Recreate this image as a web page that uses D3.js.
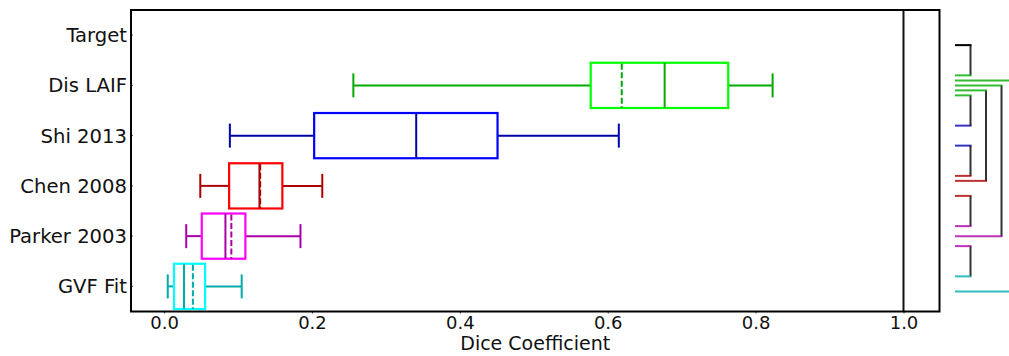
<!DOCTYPE html>
<html>
<head>
<meta charset="utf-8">
<script src="https://cdn.jsdelivr.net/npm/d3@7"></script>
<style>
  html, body { margin: 0; padding: 0; background: #fff; }
  svg { display: block; font-family: "DejaVu Sans", sans-serif; }
</style>
</head>
<body>
<svg id="chart" width="1009" height="356"></svg>
<script>
// ---------- data ----------
const categories = ["Target", "Dis LAIF", "Shi 2013", "Chen 2008", "Parker 2003", "GVF Fit"];
const whiskerLow  = [1.0, 0.256, 0.089, 0.049, 0.030, 0.005];
const q1          = [1.0, 0.577, 0.203, 0.088, 0.051, 0.0135];
const median      = [1.0, 0.677, 0.341, 0.129, 0.083, 0.027];
const mean        = [1.0, 0.619, null,  0.130, 0.091, 0.039];
const q3          = [1.0, 0.763, 0.451, 0.160, 0.110, 0.0555];
const whiskerHigh = [1.0, 0.823, 0.615, 0.214, 0.1845, 0.105];
const boxColors     = ["#000000", "#00ff00", "#0000ff", "#ff0000", "#ff00ff", "#00ffff"];
const whiskerColors = ["#000000", "#00aa00", "#0000aa", "#aa0000", "#aa00aa", "#00aaaa"];
const xTicks = [0.0, 0.2, 0.4, 0.6, 0.8, 1.0];
const xTickLabels = ["0.0", "0.2", "0.4", "0.6", "0.8", "1.0"];
const xTitle = "Dice Coefficient";
// significance brackets (pairs of categories)
const bracketFrom = ["Target", "Dis LAIF", "Dis LAIF", "Dis LAIF", "Dis LAIF", "Shi 2013", "Chen 2008", "Parker 2003"];
const bracketTo   = ["Dis LAIF", "GVF Fit", "Parker 2003", "Chen 2008", "Shi 2013", "Chen 2008", "Parker 2003", "GVF Fit"];

// ---------- layout ----------
const svg = d3.select("#chart");
const L = 131, R = 939.5, T = 10, B = 311.5;

const x = d3.scaleLinear().domain([-0.0447, 1.0487]).range([L, R]);
const y = d3.scaleBand().domain(categories).range([T, B]).padding(0);
const bw = y.bandwidth();
const boxH = bw * 0.9;
const capH = 24;

const rows = categories.map((c, i) => ({
  c, i, lo: whiskerLow[i], q1: q1[i], med: median[i], mean: mean[i], q3: q3[i], hi: whiskerHigh[i],
  box: boxColors[i], wc: whiskerColors[i]
}));

// ---------- axes ----------
const xAxis = d3.axisBottom(x).tickValues(xTicks).tickFormat((d, i) => xTickLabels[i]).tickSize(2).tickPadding(4);
const gx = svg.append("g").attr("transform", `translate(0,${B})`).call(xAxis);
gx.select(".domain").remove();
gx.selectAll(".tick line").attr("stroke", "#333");
gx.selectAll(".tick text").attr("font-size", 18).attr("fill", "#111")
  .attr("font-family", "DejaVu Sans, sans-serif").attr("y", 5).attr("dy", "0.71em");

const yAxis = d3.axisLeft(y).tickSize(-2).tickPadding(6);
const gy = svg.append("g").attr("transform", `translate(${L},0)`).call(yAxis);
gy.select(".domain").remove();
gy.selectAll(".tick line").attr("stroke", "#555");
gy.selectAll(".tick text").attr("font-size", 19.6).attr("fill", "#111")
  .attr("font-family", "DejaVu Sans, sans-serif").attr("x", -4).attr("dy", "0.36em");

svg.append("text")
  .attr("x", (L + R) / 2).attr("y", 350)
  .attr("text-anchor", "middle").attr("font-size", 19).attr("fill", "#111")
  .text(xTitle);

// ---------- boxes ----------
const plot = svg.append("g");
const boxRows = rows.filter(r => r.c !== "Target");

boxRows.forEach(r => {
  const cy = y(r.c) + bw / 2;
  const g = plot.append("g");
  // whiskers
  g.append("line").attr("x1", x(r.lo)).attr("x2", x(r.q1)).attr("y1", cy).attr("y2", cy)
    .attr("stroke", r.wc).attr("stroke-width", 2);
  g.append("line").attr("x1", x(r.q3)).attr("x2", x(r.hi)).attr("y1", cy).attr("y2", cy)
    .attr("stroke", r.wc).attr("stroke-width", 2);
  // caps
  [r.lo, r.hi].forEach(v => {
    g.append("line").attr("x1", x(v)).attr("x2", x(v)).attr("y1", cy - capH / 2).attr("y2", cy + capH / 2)
      .attr("stroke", r.wc).attr("stroke-width", 2);
  });
  // box
  g.append("rect").attr("x", x(r.q1)).attr("y", cy - boxH / 2)
    .attr("width", x(r.q3) - x(r.q1)).attr("height", boxH)
    .attr("fill", "none").attr("stroke", r.box).attr("stroke-width", 2.2);
  // median
  g.append("line").attr("x1", x(r.med)).attr("x2", x(r.med)).attr("y1", cy - boxH / 2).attr("y2", cy + boxH / 2)
    .attr("stroke", r.wc).attr("stroke-width", 2);
  // mean
  if (r.mean !== null) {
    g.append("line").attr("x1", x(r.mean)).attr("x2", x(r.mean)).attr("y1", cy - boxH / 2 + 1).attr("y2", cy + boxH / 2)
      .attr("stroke", r.wc).attr("stroke-width", 2).attr("stroke-dasharray", "6,2.5");
  }
});

// target line (full height)
const targetRow = rows.find(r => r.c === "Target");
plot.append("line").attr("x1", x(targetRow.med)).attr("x2", x(targetRow.med))
  .attr("y1", T).attr("y2", B).attr("stroke", "#111").attr("stroke-width", 2);

// frame
svg.append("rect").attr("x", L).attr("y", T).attr("width", R - L).attr("height", B - T)
  .attr("fill", "none").attr("stroke", "#000").attr("stroke-width", 2);

// ---------- significance brackets ----------
const bx0 = 955, bStep = 15.5, slot = 5;
const bg = svg.append("g");
bracketFrom.forEach((a, k) => {
  const b = bracketTo[k];
  const ia = categories.indexOf(a), ib = categories.indexOf(b);
  const level = ib - ia;
  const ya = y(a) + bw / 2 + (10 - slot * (level - 1));
  const yb = y(b) + bw / 2 + (-10 + slot * (level - 1));
  const xe = bx0 + bStep * level;
  bg.append("line").attr("x1", xe).attr("x2", xe).attr("y1", ya).attr("y2", yb)
    .attr("stroke", "#333").attr("stroke-width", 2);
  bg.append("line").attr("x1", bx0).attr("x2", xe + 1).attr("y1", ya).attr("y2", ya)
    .attr("stroke", whiskerColors[ia]).attr("stroke-opacity", a === "Target" ? 1 : 0.8).attr("stroke-width", 2);
  bg.append("line").attr("x1", bx0).attr("x2", xe + 1).attr("y1", yb).attr("y2", yb)
    .attr("stroke", whiskerColors[ib]).attr("stroke-opacity", 0.8).attr("stroke-width", 2);
});
</script>
</body>
</html>
